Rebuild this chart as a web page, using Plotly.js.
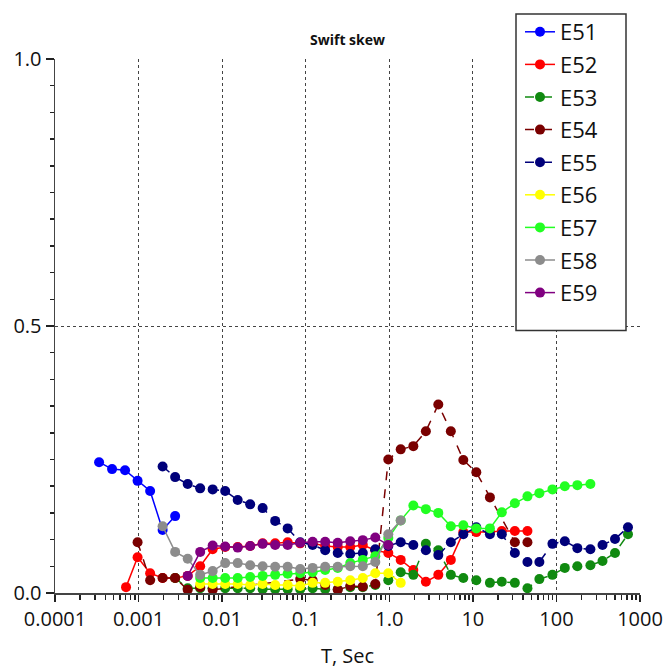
<!DOCTYPE html>
<html>
<head>
<meta charset="utf-8">
<script src="https://cdn.plot.ly/plotly-3.0.1.min.js"></script>
<style>html,body{margin:0;padding:0;background:#fff;}#chart{width:672px;height:672px;}</style>
</head>
<body>
<div id="chart"></div>
<script>
// Series names
const seriesNames = ["E51","E52","E53","E54","E55","E56","E57","E58","E59"];

// Periods (T, sec) and skew values
const x_E51 = [3.37e-4, 4.82e-4, 6.89e-4, 9.73e-4, 1.375e-3, 1.94e-3, 2.74e-3];
const y_E51 = [0.245, 0.232, 0.230, 0.210, 0.191, 0.118, 0.144];

const x_E52 = [7.08e-4, 9.73e-4, 1.375e-3, 1.94e-3, 2.74e-3, 3.87e-3, 5.46e-3, 7.70e-3, 1.087e-2, 1.535e-2, 2.165e-2, 3.05e-2, 4.31e-2, 6.08e-2, 8.59e-2, 0.121, 0.171, 0.2416, 0.341, 0.482, 0.680, 0.973, 1.37, 1.94, 2.74, 3.86, 5.45, 7.69, 11.0, 16.0, 22.2, 31.8, 45.0];
const y_E52 = [0.011, 0.067, 0.037, 0.028, 0.028, 0.032, 0.050, 0.082, 0.086, 0.086, 0.088, 0.093, 0.093, 0.095, 0.093, 0.093, 0.088, 0.086, 0.086, 0.090, 0.080, 0.075, 0.062, 0.043, 0.021, 0.034, 0.062, 0.114, 0.114, 0.114, 0.116, 0.116, 0.116];

const x_E53 = [2.74e-3, 3.87e-3, 5.46e-3, 7.70e-3, 1.087e-2, 1.535e-2, 2.165e-2, 3.05e-2, 4.31e-2, 6.08e-2, 8.59e-2, 0.121, 0.171, 0.2416, 0.341, 0.482, 0.680, 0.973, 1.37, 1.94, 2.74, 3.86, 5.45, 7.69, 11.0, 16.0, 22.2, 31.8, 45.0, 62.5, 89.6, 126, 178, 255, 356, 502, 718];
const y_E53 = [0.028, 0.009, 0.009, 0.009, 0.009, 0.009, 0.009, 0.007, 0.007, 0.007, 0.007, 0.009, 0.007, 0.007, 0.011, 0.011, 0.015, 0.024, 0.039, 0.034, 0.092, 0.080, 0.034, 0.028, 0.024, 0.019, 0.021, 0.019, 0.009, 0.026, 0.034, 0.047, 0.050, 0.052, 0.060, 0.075, 0.110];

const x_E54 = [9.73e-4, 1.375e-3, 1.94e-3, 2.74e-3, 3.87e-3, 5.46e-3, 7.70e-3, 8.59e-2, 0.121, 0.171, 0.2416, 0.341, 0.482, 0.680, 0.973, 1.37, 1.94, 2.74, 3.86, 5.45, 7.69, 11.0, 16.0, 31.8, 45.0];
const y_E54 = [0.095, 0.024, 0.028, 0.028, 0.006, 0.011, 0.006, 0.026, 0.024, 0.015, 0.006, 0.013, 0.012, 0.017, 0.250, 0.269, 0.275, 0.303, 0.353, 0.303, 0.249, 0.226, 0.179, 0.095, 0.095];

const x_E55 = [1.94e-3, 2.74e-3, 3.87e-3, 5.46e-3, 7.70e-3, 1.087e-2, 1.535e-2, 2.165e-2, 3.05e-2, 4.31e-2, 6.08e-2, 8.59e-2, 0.121, 0.171, 0.2416, 0.341, 0.482, 0.680, 0.973, 1.37, 1.94, 2.74, 3.86, 5.45, 7.69, 11.0, 16.0, 22.2, 31.8, 45.0, 62.5, 89.6, 126, 178, 255, 356, 502, 718];
const y_E55 = [0.237, 0.217, 0.204, 0.196, 0.194, 0.191, 0.174, 0.166, 0.159, 0.135, 0.121, 0.095, 0.090, 0.080, 0.075, 0.073, 0.075, 0.082, 0.088, 0.095, 0.090, 0.080, 0.071, 0.095, 0.110, 0.123, 0.110, 0.110, 0.075, 0.058, 0.058, 0.092, 0.097, 0.084, 0.082, 0.090, 0.101, 0.123];

const x_E56 = [5.46e-3, 7.70e-3, 1.087e-2, 1.535e-2, 2.165e-2, 3.05e-2, 4.31e-2, 6.08e-2, 8.59e-2, 0.121, 0.171, 0.2416, 0.341, 0.482, 0.680, 0.973, 1.37];
const y_E56 = [0.017, 0.017, 0.017, 0.017, 0.015, 0.017, 0.015, 0.015, 0.013, 0.019, 0.019, 0.021, 0.024, 0.028, 0.037, 0.037, 0.019];

const x_E57 = [5.46e-3, 7.70e-3, 1.087e-2, 1.535e-2, 2.165e-2, 3.05e-2, 4.31e-2, 6.08e-2, 8.59e-2, 0.121, 0.171, 0.2416, 0.341, 0.482, 0.680, 0.973, 1.37, 1.94, 2.74, 3.86, 5.45, 7.69, 11.0, 16.0, 22.2, 31.8, 45.0, 62.5, 89.6, 126, 178, 255];
const y_E57 = [0.028, 0.028, 0.028, 0.028, 0.030, 0.032, 0.034, 0.036, 0.037, 0.039, 0.043, 0.047, 0.056, 0.062, 0.069, 0.103, 0.136, 0.164, 0.157, 0.150, 0.125, 0.127, 0.121, 0.121, 0.151, 0.168, 0.181, 0.187, 0.194, 0.200, 0.202, 0.204];

const x_E58 = [1.94e-3, 2.74e-3, 3.87e-3, 5.46e-3, 7.70e-3, 1.087e-2, 1.535e-2, 2.165e-2, 3.05e-2, 4.31e-2, 6.08e-2, 8.59e-2, 0.121, 0.171, 0.2416, 0.341, 0.482, 0.680, 0.973, 1.37];
const y_E58 = [0.125, 0.077, 0.064, 0.034, 0.041, 0.056, 0.056, 0.052, 0.050, 0.049, 0.049, 0.045, 0.047, 0.049, 0.049, 0.050, 0.050, 0.058, 0.110, 0.136];

const x_E59 = [3.87e-3, 5.46e-3, 7.70e-3, 1.087e-2, 1.535e-2, 2.165e-2, 3.05e-2, 4.31e-2, 6.08e-2, 8.59e-2, 0.121, 0.171, 0.2416, 0.341, 0.482, 0.680, 0.973];
const y_E59 = [0.032, 0.077, 0.089, 0.087, 0.085, 0.088, 0.092, 0.090, 0.090, 0.094, 0.096, 0.096, 0.094, 0.097, 0.099, 0.104, 0.090];

// Tick label alias (1 is shown as "1.0")
const xLabelAlias = {"1": "1.0"};

const xs = [x_E51, x_E52, x_E53, x_E54, x_E55, x_E56, x_E57, x_E58, x_E59];
const ys = [y_E51, y_E52, y_E53, y_E54, y_E55, y_E56, y_E57, y_E58, y_E59];
const colors = ["#0000ff", "#ff0000", "#108a10", "#7a0000", "#00007a", "#ffff00", "#22ff22", "#8c8c8c", "#800080"];
const dashes = ["solid", "solid", "dash", "dash", "dash", "solid", "solid", "solid", "solid"];

const FONT = "Open Sans, Noto Sans, sans-serif";

const traces = seriesNames.map((n, i) => ({
  type: "scatter",
  mode: "lines+markers",
  name: n,
  legendgroup: n,
  x: xs[i],
  y: ys[i],
  line: {color: colors[i], width: 1.5, dash: dashes[i]},
  marker: {color: colors[i], size: 10}
}));

const layout = {
  width: 672, height: 672,
  margin: {l: 55, r: 32, t: 58, b: 79},
  paper_bgcolor: "#fff",
  plot_bgcolor: "#fff",
  font: {family: FONT, color: "#111", size: 20},
  title: {
    text: "<b>Swift skew</b>",
    font: {family: FONT, size: 14, color: "#111"},
    xref: "paper", x: 0.5, xanchor: "center",
    yref: "container", y: 1 - 40/672, yanchor: "middle"
  },
  xaxis: {
    type: "log",
    range: [-4, 3],
    tickmode: "linear", tick0: 0, dtick: 1,
    exponentformat: "none",
    labelalias: xLabelAlias,
    ticks: "outside", ticklen: 7, tickwidth: 1.5, tickcolor: "#222",
    showline: true, linecolor: "#444", linewidth: 1.5,
    showgrid: true, gridcolor: "#444", gridwidth: 1, griddash: "dot",
    zeroline: false,
    tickfont: {family: FONT, size: 20, color: "#111"},
    minor: {dtick: "D1", ticks: "outside", ticklen: 5, tickwidth: 1.5, tickcolor: "#222", showgrid: false},
    title: {text: "T, Sec", font: {family: FONT, size: 20, color: "#111"}, standoff: 18}
  },
  yaxis: {
    range: [0, 1],
    tickmode: "linear", tick0: 0, dtick: 0.5,
    tickformat: ".1f",
    ticks: "outside", ticklen: 8, tickwidth: 1.5, tickcolor: "#222",
    showline: true, linecolor: "#444", linewidth: 1.5,
    showgrid: true, gridcolor: "#444", gridwidth: 1, griddash: "dot",
    zeroline: false,
    tickfont: {family: FONT, size: 20, color: "#111"},
    minor: {dtick: 0.05, ticks: "outside", ticklen: 4, tickwidth: 1.5, tickcolor: "#222", showgrid: false}
  },
  shapes: [{
    type: "rect", xref: "paper", yref: "paper",
    x0: (516-55)/585, x1: (626-55)/585,
    y0: (593-330)/535, y1: (593-13)/535,
    line: {color: "#333", width: 1.5},
    fillcolor: "#fff", layer: "above"
  }],
  legend: {
    x: (520-55)/585, xanchor: "left",
    y: (593-11)/535, yanchor: "top",
    bgcolor: "rgba(0,0,0,0)",
    borderwidth: 0,
    font: {family: FONT, size: 22, color: "#111"},
    tracegroupgap: 1,
    itemwidth: 30
  },
  showlegend: true
};

Plotly.newPlot("chart", traces, layout, {displayModeBar: false, staticPlot: true});
</script>
</body>
</html>
